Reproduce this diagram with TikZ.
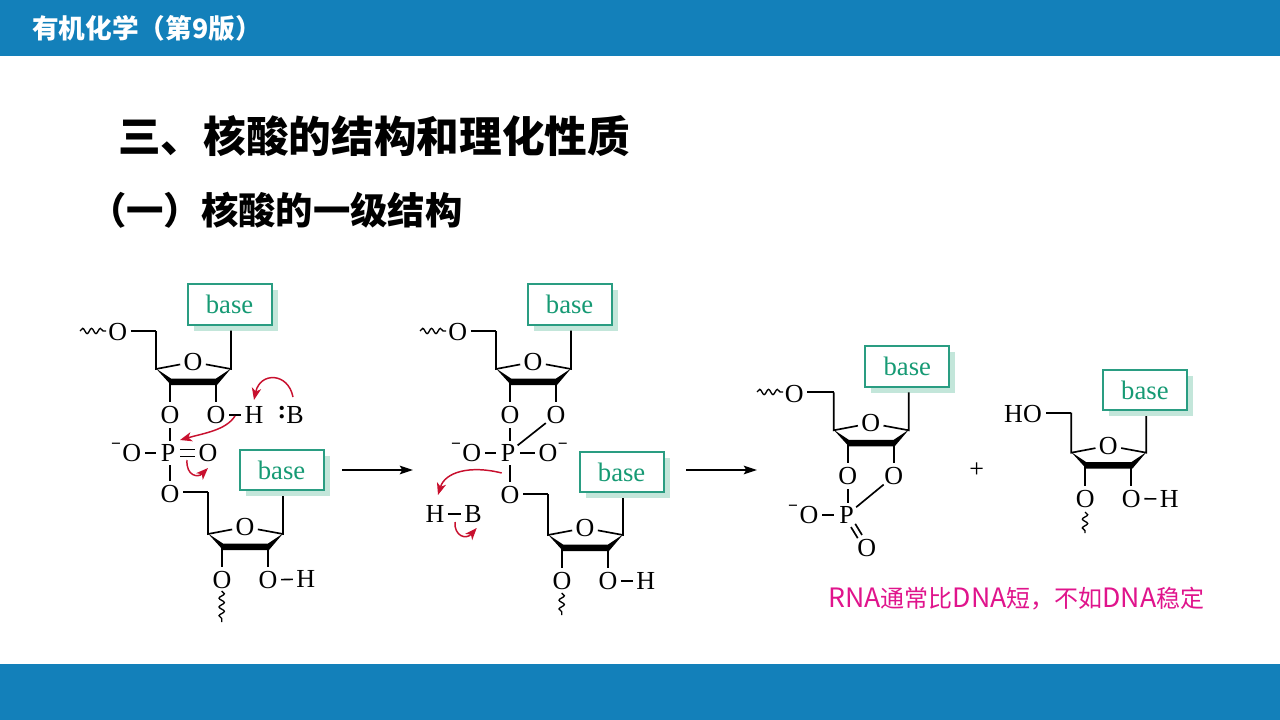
\documentclass[tikz,border=0pt]{standalone}
\usepackage{fontspec}
\setmainfont{Liberation Serif}
\newfontfamily\cjk{Noto Sans CJK SC}
\usetikzlibrary{arrows.meta,decorations.pathmorphing,shadows,calc}
\definecolor{barblue}{HTML}{1380BA}
\definecolor{boxteal}{HTML}{2A9D82}
\definecolor{basetxt}{HTML}{169A74}
\definecolor{shadowg}{HTML}{C3E6DA}
\definecolor{arrowred}{HTML}{C8102E}
\definecolor{notepink}{HTML}{E0148C}
\newcommand\lat[1]{{\fontsize{20}{22}\selectfont #1}}
\tikzset{
  atom/.style={circle,inner sep=0pt,minimum size=18pt,font=\fontsize{19.5}{20}\selectfont},
  chg/.style={inner sep=0pt,font=\bfseries\fontsize{13}{13}\selectfont},
  plain/.style={inner sep=0pt,font=\fontsize{19.5}{20}\selectfont},
  bond/.style={draw=black,line width=1.25pt},
  basebox/.style={draw=boxteal,line width=1.5pt,fill=white,minimum width=63pt,minimum height=30.5pt,inner sep=0pt,
     text=basetxt,font=\fontsize{20}{21}\selectfont,
     general shadow={shadow xshift=4.5pt,shadow yshift=-4.5pt,fill=shadowg}},
  wave/.style={draw=black,line width=1pt,decorate,decoration={snake,segment length=6.6pt,amplitude=2pt}},
  redarrow/.style={draw=arrowred,line width=1.1pt,-{Stealth[length=9pt,width=7pt,inset=2.5pt]}},
  mainarrow/.style={draw=black,line width=1pt,-{Stealth[length=10pt,width=6.5pt,inset=2pt]}},
  heading/.style={inner sep=0pt,anchor=west,font=\cjk\bfseries\fontsize{32}{36}\selectfont}
}
% #1 name, #2 x, #3 y of ring oxygen, #4 arm rise, #5 box centre dy
\newcommand\sugarunit[5]{%
\begin{scope}[shift={(#2,#3)}]
  \node[basebox] (#1-box) at (36.6,#5) {base};
  \node[atom] (#1-o) at (0,0) {O};
  \coordinate (#1-cl) at (-37,7);
  \coordinate (#1-cr) at (38,7);
  \coordinate (#1-fl) at (-23,20);
  \coordinate (#1-fr) at (23,20);
  \coordinate (#1-top) at (-37,#4);
  \coordinate (#1-bt) at (38,#5+26);
  \node[atom] (#1-ol) at (-23,53) {O};
  \node[atom] (#1-or) at (23,53) {O};
  \draw[bond] (#1-top) -- (#1-cl) -- (#1-o);
  \draw[bond] (#1-o) -- (#1-cr) -- (#1-bt);
  \fill (-37,6.5) -- (-22,16.5) -- (23,16.5) -- (38,6.5) -- (24,23) -- (-22,23) -- cycle;
  \draw[bond] (#1-fl) -- (#1-ol);
  \draw[bond] (#1-fr) -- (#1-or);
\end{scope}}
\begin{document}
\begin{tikzpicture}[x=0.75pt,y=-0.75pt]
\useasboundingbox (0,0) rectangle (1280,720);
\fill[white] (0,0) rectangle (1280,720);
\fill[barblue] (0,0) rectangle (1280,56);
\fill[barblue] (0,664) rectangle (1280,720);
\node[inner sep=0pt,anchor=west,text=white,font=\cjk\bfseries\fontsize{20}{24}\selectfont] (title) at (32,28) {有机化学（第9版）};
\node[heading] (h1) at (118,136) {三、核酸的结构和理化性质};
\node[heading,font=\cjk\bfseries\fontsize{28}{32}\selectfont] (h2) at (89,210) {（一）核酸的一级结构};

% ===== Structure 1 =====
\sugarunit{a}{193}{362}{-31}{-57.5}
\sugarunit{b}{245}{527}{-35}{-57}
\node[atom] (a5) at (117.7,332) {O};
\coordinate (a5w) at (80,331);
\draw[wave] (a5w) -- (106,331);
\draw[bond] (a5.east |- a-top) -- (a-top);
\node[atom] (aH) at (254,415) {H};
\draw[bond] (a-or) -- (aH);
\node[plain] (aB) at (295,415) {B};
\node[plain,font=\bfseries\fontsize{19.5}{20}\selectfont] (acol) at (282,413) {:};
\node[atom] (aP) at (168,453) {P};
\node[atom] (aOm) at (131.7,453) {O};
\node[chg] (aM) at (116,446) {−};
\node[atom] (aOd) at (208,453) {O};
\node[atom] (aOb) at (170,494) {O};
\draw[bond] (a-ol.south) -- (a-ol.south |- aP.north);
\draw[bond] (aOb.north) -- (aOb.north |- aP.south);
\draw[bond] (aOm) -- (aP);
\draw[bond] ([yshift=2.6pt]aP.east) -- ([yshift=2.6pt]aOd.west);
\draw[bond] ([yshift=-2.6pt]aP.east) -- ([yshift=-2.6pt]aOd.west);
\draw[bond] (aOb.east |- b-top) -- (b-top);
\node[atom] (bH) at (305.7,579) {H};
\draw[bond] (b-or) -- (bH);
\coordinate (bw) at (221.7,622);
\draw[wave] (221.7,591) -- (bw);
% red arrows
\draw[redarrow] (293,397) .. controls (288,372) and (260,372) .. (254,400);
\draw[redarrow] (235,416) .. controls (226,430) and (205,433) .. (180,440);
\draw[redarrow] (187,460) .. controls (186,476) and (198,478) .. (208,468);
% arrow 1
\coordinate (m1s) at (342,470);
\coordinate (m1e) at (413,470);
\draw[mainarrow] (m1s) -- (m1e);

% ===== Structure 2 =====
\sugarunit{c}{533}{362}{-31}{-57.5}
\sugarunit{d}{585}{528}{-34}{-56}
\node[atom] (c5) at (457.7,332) {O};
\coordinate (c5w) at (420,331);
\draw[wave] (c5w) -- (446,331);
\draw[bond] (c5.east |- c-top) -- (c-top);
\node[atom] (cP) at (508,453) {P};
\node[atom] (cOm) at (471.7,453) {O};
\node[chg] (cM) at (456,446) {−};
\node[atom] (cOp) at (548,453) {O};
\node[chg] (cMp) at (562.7,446) {−};
\node[atom] (cOb) at (510,495) {O};
\draw[bond] (c-ol.south) -- (c-ol.south |- cP.north);
\draw[bond] (cOb.north) -- (cOb.north |- cP.south);
\draw[bond] (cOm) -- (cP);
\draw[bond] (cP) -- (cOp);
\draw[bond] (c-or) -- (cP);
\draw[bond] (cOb.east |- d-top) -- (d-top);
\node[atom] (dH) at (645.7,581) {H};
\draw[bond] (d-or) -- (dH);
\coordinate (dw) at (561.7,615);
\draw[wave] (561.7,593) -- (dw);
\node[atom] (hbH) at (435,514) {H};
\node[atom] (hbB) at (473,514) {B};
\draw[bond] (hbH) -- (hbB);
\draw[redarrow] (501.7,473) .. controls (470,465) and (445,472) .. (438,495);
\draw[redarrow] (455,522) .. controls (454,536) and (466,540) .. (476.7,528);
\coordinate (m2s) at (686,470);
\coordinate (m2e) at (757,470);
\draw[mainarrow] (m2s) -- (m2e);

% ===== Structure 3 =====
\sugarunit{e}{870.7}{423.3}{-31}{-57}
\node[atom] (e5) at (794.3,394.3) {O};
\coordinate (e5w) at (757,392);
\draw[wave] (e5w) -- (783,392);
\draw[bond] (e5.east |- e-top) -- (e-top);
\node[atom] (eP) at (846.7,515) {P};
\node[atom] (eOm) at (809,515) {O};
\node[chg] (eM) at (793,508) {−};
\node[atom] (eOd) at (866.7,547.7) {O};
\draw[bond] (e-ol.south) -- (e-ol.south |- eP.north);
\draw[bond] (eOm) -- (eP);
\draw[bond] (e-or) -- (eP);
\draw[bond,transform canvas={shift={(1.6pt,1.2pt)}}] (eP) -- (eOd);
\draw[bond,transform canvas={shift={(-1.6pt,-1.2pt)}}] (eP) -- (eOd);
\node[plain] (plus) at (976.7,470) {+};

% ===== Structure 4 =====
\sugarunit{f}{1108.3}{445.7}{-33}{-55.7}
\node[plain] (fHO) at (1023,414.3) {HO};
\draw[bond] (fHO.east |- f-top) ++(4,0) -- (f-top);
\node[atom] (fH) at (1169.3,499) {H};
\draw[bond] (f-or) -- (fH);
\coordinate (fw) at (1085,533);
\draw[wave] (1085,512) -- (fw);

\node[inner sep=0pt,anchor=west,text=notepink,font=\cjk\fontsize{18}{22}\selectfont] (note) at (828,599) {\lat{RNA}通常比\lat{DNA}短，不如\lat{DNA}稳定};
\end{tikzpicture}
\end{document}
